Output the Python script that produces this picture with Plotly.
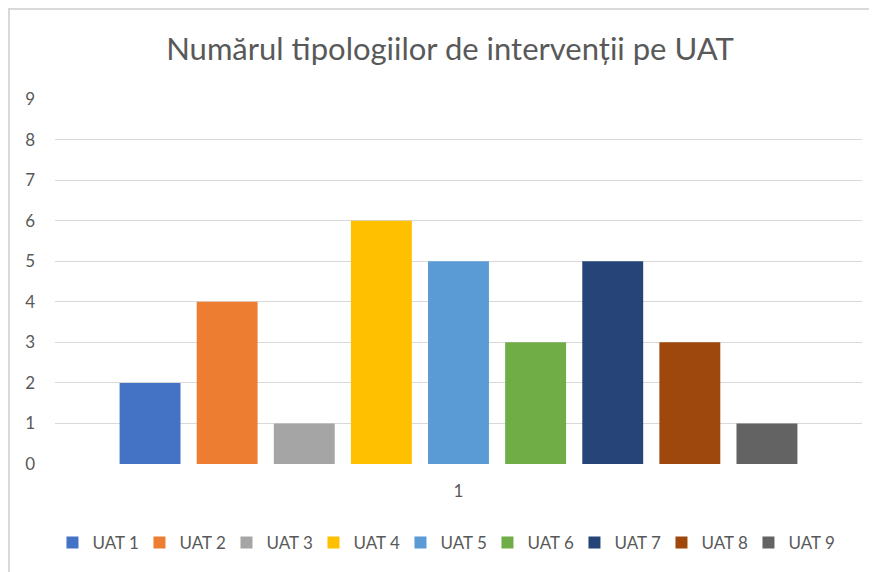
import plotly.graph_objects as go

categories = ["1"]
series_names = ["UAT 1", "UAT 2", "UAT 3", "UAT 4", "UAT 5", "UAT 6", "UAT 7", "UAT 8", "UAT 9"]
series_values = [2, 4, 1, 6, 5, 3, 5, 3, 1]
colors = ["#4472C4", "#ED7D31", "#A5A5A5", "#FFC000", "#5B9BD5",
          "#70AD47", "#264478", "#9E480E", "#636363"]
y_ticks = [0, 1, 2, 3, 4, 5, 6, 7, 8, 9]

fig = go.Figure()
for name, val, col in zip(series_names, series_values, colors):
    fig.add_trace(go.Bar(x=categories, y=[val], name=name, marker_color=col,
                         marker_line_width=0))

font_family = "Lato, Open Sans, sans-serif"
fig.update_layout(
    width=877, height=572,
    margin=dict(l=47, r=23, t=91, b=116, autoexpand=False),
    paper_bgcolor="white", plot_bgcolor="white",
    barmode="group", bargap=0.14, bargroupgap=0.21,
    title=dict(text="Numărul tipologiilor de intervenții pe UAT",
               x=0.504, xanchor="center", y=0.928, yanchor="middle",
               font=dict(family=font_family, size=31, color="#595959")),
    font=dict(family=font_family, color="#595959", size=17),
    xaxis=dict(type="category", showgrid=False, showline=False, ticks="",
               ticklabelstandoff=15, tickfont=dict(size=17, color="#595959")),
    yaxis=dict(range=[0, 9], tickvals=y_ticks, showgrid=True, gridcolor="#D9D9D9",
               gridwidth=1.3, zeroline=False, showline=False, ticks="",
               ticklabelstandoff=19, tickfont=dict(size=17, color="#595959")),
    legend=dict(orientation="h", x=0.482, xanchor="center", y=-0.216, yanchor="middle",
                font=dict(size=17, color="#595959"), itemwidth=30,
                entrywidth=42, entrywidthmode="pixels",
                traceorder="normal", tracegroupgap=0),
    showlegend=True,
    shapes=[dict(type="rect", xref="paper", yref="paper",
                 x0=-0.057, x1=1.1, y0=1.2466, y1=-0.5,
                 line=dict(color="#D9D9D9", width=2), fillcolor="rgba(0,0,0,0)",
                 layer="below")],
)

fig.write_html("out.html")
